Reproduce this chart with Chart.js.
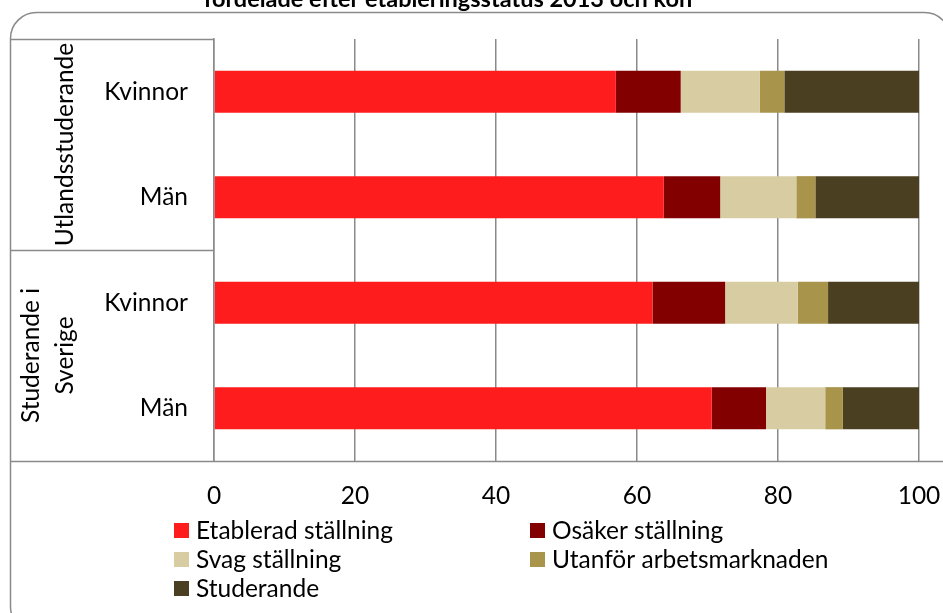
<!DOCTYPE html>
<html>
<head>
<meta charset="utf-8">
<script src="https://cdn.jsdelivr.net/npm/chart.js@4"></script>
<style>
html,body{margin:0;padding:0;background:#fff;}
canvas{display:block;}
</style>
</head>
<body>
<canvas id="c" width="943" height="613"></canvas>
<script>
const title = "fördelade efter etableringsstatus 2013 och kön";
const categories = ["Kvinnor", "Män", "Kvinnor", "Män"];
const groups = [["Utlandsstuderande"], ["Studerande i", "Sverige"]];
const groupSizes = [2, 2];
const seriesNames = ["Etablerad ställning", "Osäker ställning", "Svag ställning", "Utanför arbetsmarknaden", "Studerande"];
const seriesColors = ["#FF1C1C", "#820000", "#D8CCA3", "#A8944B", "#4A3F20"];
const etablerad = [57.0, 63.8, 62.2, 70.6];
const osaker = [9.2, 8.0, 10.3, 7.7];
const svag = [11.2, 10.8, 10.3, 8.4];
const utanfor = [3.5, 2.7, 4.3, 2.5];
const studerande = [19.1, 14.7, 12.9, 10.8];
const xTicks = [0, 20, 40, 60, 80, 100];

const seriesValues = [etablerad, osaker, svag, utanfor, studerande];
const FONT = "Lato";
const FS = 24.5;

const decor = {
  id: 'decor',
  afterDraw(chart) {
    const ctx = chart.ctx;
    const ca = chart.chartArea;
    const ys = chart.scales.y;
    ctx.save();
    // outer rounded frame
    ctx.strokeStyle = '#8a8a8a';
    ctx.lineWidth = 1.5;
    ctx.beginPath();
    ctx.roundRect(10.5, 12.5, 940, 620, 26);
    ctx.stroke();
    // left box lines
    const left = 11, catLeft = 213;
    const bounds = [ca.top];
    let idx = 0;
    for (const n of groupSizes) {
      idx += n;
      const a = ys.getPixelForValue(idx - 1), b = idx < categories.length ? ys.getPixelForValue(idx) : null;
      bounds.push(b === null ? ca.bottom : (a + b) / 2);
    }
    ctx.beginPath();
    for (let i = 0; i < bounds.length - 1; i++) {
      const y = Math.round(bounds[i]) + 0.5;
      ctx.moveTo(left, y); ctx.lineTo(catLeft, y);
    }
    const yb = Math.round(ca.bottom) + 0.5;
    ctx.moveTo(left, yb); ctx.lineTo(943, yb);
    ctx.stroke();
    // category labels
    ctx.fillStyle = '#000';
    ctx.font = `${FS}px ${FONT}`;
    ctx.textAlign = 'right';
    ctx.textBaseline = 'middle';
    categories.forEach((c, i) => ctx.fillText(c, 188, ys.getPixelForValue(i)));
    // group labels rotated
    ctx.textAlign = 'center';
    groups.forEach((lines, g) => {
      const cy = (bounds[g] + bounds[g + 1]) / 2;
      const lh = 34;
      const x0 = 65 - (lines.length - 1) * lh;
      lines.forEach((t, k) => {
        ctx.save();
        ctx.translate(x0 + k * lh, cy);
        ctx.rotate(-Math.PI / 2);
        ctx.fillText(t, 0, 0);
        ctx.restore();
      });
    });
    // title (partially cut)
    ctx.font = `bold 23.5px ${FONT}`;
    ctx.textAlign = 'center';
    ctx.textBaseline = 'alphabetic';
    ctx.fillText(title, 448, 7);
    // legend
    ctx.font = `${FS}px ${FONT}`;
    ctx.textAlign = 'left';
    ctx.textBaseline = 'middle';
    const colX = [174, 530], rowY = [531, 560, 589];
    seriesNames.forEach((n, i) => {
      const x = colX[i % 2], y = rowY[Math.floor(i / 2)];
      ctx.fillStyle = seriesColors[i];
      ctx.fillRect(x, y - 8, 15, 15);
      ctx.fillStyle = '#000';
      ctx.fillText(n, x + 22, y);
    });
    ctx.restore();
  }
};

new Chart(document.getElementById('c'), {
  type: 'bar',
  data: {
    labels: categories,
    datasets: seriesNames.map((n, i) => ({
      label: n,
      data: seriesValues[i],
      backgroundColor: seriesColors[i],
      borderWidth: 0,
      categoryPercentage: 1,
      barPercentage: 0.4
    }))
  },
  options: {
    indexAxis: 'y',
    responsive: false,
    animation: false,
    devicePixelRatio: 1,
    layout: { padding: { left: 0, top: 39, right: 24, bottom: 0 } },
    plugins: { legend: { display: false }, title: { display: false }, tooltip: { enabled: false } },
    scales: {
      x: {
        stacked: true,
        min: 0, max: 100,
        afterBuildTicks: s => { s.ticks = xTicks.map(v => ({ value: v })); },
        afterFit: s => { s.height = 613 - 461; s.paddingLeft = 0; s.paddingRight = 0; },
        ticks: { color: '#000', font: { family: FONT, size: FS }, padding: 20 },
        grid: { color: '#8a8a8a', lineWidth: 1.5, drawTicks: false },
        border: { display: false }
      },
      y: {
        stacked: true,
        afterFit: s => { s.width = 214; s.paddingTop = 0; s.paddingBottom = 0; },
        ticks: { display: false },
        grid: { display: false },
        border: { display: true, color: '#8a8a8a', width: 1.5 }
      }
    }
  },
  plugins: [decor]
});
</script>
</body>
</html>
